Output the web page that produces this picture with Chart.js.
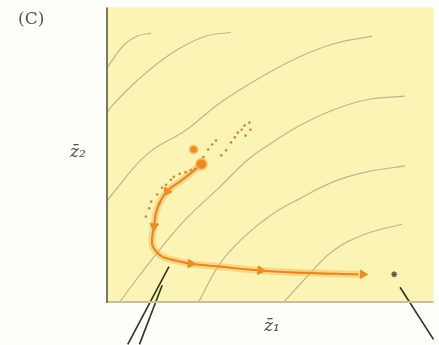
<!DOCTYPE html>
<html>
<head>
<meta charset="utf-8">
<script src="https://cdn.jsdelivr.net/npm/chart.js@4"></script>
<style>
  html, body { margin: 0; padding: 0; background: #fdfdfa; }
  #wrap { width: 439px; height: 345px; }
</style>
</head>
<body>
<div id="wrap"><canvas id="myChart" width="439" height="345"></canvas></div>
<script>
// contour lines of the landscape (x, y in plot units 0..100)
const c1X = [0, 1.5, 5.5, 9.4, 13.6];
const c1Y = [79.3, 81.9, 87.6, 90.3, 91.3];
const c2X = [0, 1.5, 9.4, 19.7, 29.7, 38.2];
const c2Y = [64.2, 66.6, 75.3, 84.3, 90.0, 91.6];
const c3X = [0, 1.5, 12.4, 24.5, 34.8, 49.4, 59.4, 69.7, 81.8];
const c3Y = [34.1, 36.5, 50.2, 58.5, 67.6, 77.6, 83.3, 87.6, 90.3];
const c4X = [3.9, 10, 16.7, 24.5, 34.8, 43.3, 50, 59.4, 69.7, 79.7, 91.8];
const c4Y = [0, 9, 18.4, 28.4, 39.1, 48.2, 53.5, 59.9, 65.2, 68.6, 69.9];
const c5X = [28.2, 34.8, 41.8, 50.9, 59.4, 69.7, 79.7, 91.8];
const c5Y = [0, 13, 21.7, 29.8, 35.1, 40.8, 44.1, 46.2];
const c6X = [54.5, 61.5, 69.7, 79.7, 90.9];
const c6Y = [0, 8.4, 17.4, 23.1, 26.4];

// trajectory of the mean
const pathX = [29.1, 23.6, 18.5, 15.5, 14.5, 13.9, 15.5, 17.6, 21.5, 25.8, 34.8, 47.3, 58.5, 77.5];
const pathY = [46.8, 41.8, 37.5, 31.8, 25.8, 19.7, 16.7, 15.1, 14.0, 13.0, 12.0, 10.7, 10.0, 9.4];

// arrow heads on the trajectory
const arrowX = [18.5, 14.5, 25.8, 47.3, 78.8];
const arrowY = [37.5, 25.8, 13.0, 10.7, 9.4];
const arrowRot = [215, 185, 95, 95, 92];

// scattered small dots
const dotX = [13.0, 13.6, 15.5, 17.0, 18.2, 19.7, 20.6, 22.4, 24.2, 25.8, 27.3, 29.7, 31.2, 32.4, 33.6, 35.2, 36.7, 38.2, 39.4, 40.3, 41.5, 42.4, 43.9, 44.2, 42.7, 12.0, 16.2];
const dotY = [31.8, 34.1, 36.5, 38.8, 39.8, 41.5, 42.5, 43.5, 44.1, 44.8, 45.2, 49.2, 51.8, 53.5, 54.8, 49.8, 51.5, 54.2, 55.9, 57.5, 58.5, 59.9, 60.9, 58.5, 56.5, 29.0, 33.5];

// big dots
const bigX = [26.7, 29.1];
const bigY = [51.8, 46.8];
const bigR = [4, 5.5];

// optimum marker
const optX = [88.5];
const optY = [9.4];

// leader lines running off the figure
const leadAX = [19.1, 6.4];
const leadAY = [12.0, -14.4];
const leadBX = [17.0, 10.0];
const leadBY = [5.7, -14.4];
const leadCX = [90.3, 100.6];
const leadCY = [5.0, -12.7];

const labelPanel = "(C)";
const labelX = "z\u0304\u2081";
const labelY = "z\u0304\u2082";

function pts(xs, ys) {
  return xs.map((x, i) => ({ x: x, y: ys[i] }));
}

const contourColor = "#bcb68f";
function contour(xs, ys) {
  return {
    data: pts(xs, ys), showLine: true, borderColor: contourColor, borderWidth: 1.2,
    pointRadius: 0, tension: 0.4, order: 10
  };
}
function leader(xs, ys) {
  return {
    data: pts(xs, ys), showLine: true, borderColor: "#2f3320", borderWidth: 1.6,
    pointRadius: 0, clip: false, order: 1
  };
}

// yellow plot area, axis lines and labels
const paperPlugin = {
  id: "paper",
  beforeDatasetsDraw(chart) {
    const { ctx, chartArea: a } = chart;
    ctx.save();
    ctx.fillStyle = "#fbf4b4";
    ctx.fillRect(a.left, a.top, a.right - a.left + 2, a.bottom - a.top);
    ctx.restore();
  },
  afterDraw(chart) {
    const { ctx, chartArea: a } = chart;
    ctx.save();
    ctx.strokeStyle = "#c4bf9c";
    ctx.lineWidth = 2;
    ctx.beginPath();
    ctx.moveTo(a.left, a.bottom);
    ctx.lineTo(a.right + 2, a.bottom);
    ctx.stroke();
    ctx.strokeStyle = "#7d7862";
    ctx.lineWidth = 2;
    ctx.beginPath();
    ctx.moveTo(a.left, a.top);
    ctx.lineTo(a.left, a.bottom + 1);
    ctx.stroke();

    ctx.fillStyle = "#555550";
    ctx.textBaseline = "middle";
    ctx.textAlign = "left";
    ctx.font = "17px 'DejaVu Serif', serif";
    ctx.fillText(labelPanel, 18, 20);
    ctx.fillStyle = "#4a4a45";
    ctx.font = "italic 17px 'DejaVu Serif', serif";
    ctx.textAlign = "center";
    ctx.fillText(labelX, 272, 327);
    ctx.fillText(labelY, 78, 153);
    ctx.restore();
  }
};

const ctx = document.getElementById("myChart");
const chart = new Chart(ctx, {
  type: "scatter",
  data: {
    datasets: [
      contour(c1X, c1Y), contour(c2X, c2Y), contour(c3X, c3Y),
      contour(c4X, c4Y), contour(c5X, c5Y), contour(c6X, c6Y),
      {
        // soft glow under the trajectory
        data: pts(pathX, pathY), showLine: true, borderColor: "rgba(248,180,70,0.45)",
        borderWidth: 7, pointRadius: 0, tension: 0.4, order: 6
      },
      {
        data: pts(pathX, pathY), showLine: true, borderColor: "#e4892a",
        borderWidth: 2.2, pointRadius: 0, tension: 0.4, order: 5
      },
      {
        data: pts(arrowX, arrowY), pointStyle: "triangle", pointRadius: 5,
        rotation: arrowRot, backgroundColor: "#ec8f22", borderColor: "#ec8f22", order: 4
      },
      {
        data: pts(dotX, dotY), pointRadius: 1.3, backgroundColor: "#c98a3a",
        borderWidth: 0, order: 4
      },
      {
        data: pts(bigX, bigY), pointRadius: bigR, backgroundColor: "#ee8a25",
        borderColor: "rgba(250,190,90,0.6)", borderWidth: 2, order: 3
      },
      {
        data: pts(optX, optY), pointStyle: "star", pointRadius: 3,
        borderColor: "#5e5c45", borderWidth: 1.3, order: 3
      },
      leader(leadAX, leadAY), leader(leadBX, leadBY), leader(leadCX, leadCY)
    ]
  },
  options: {
    responsive: false,
    animation: false,
    layout: { padding: { left: 107, top: 3, right: 2, bottom: 43 } },
    scales: {
      x: { display: false, min: 0, max: 100 },
      y: { display: false, min: 0, max: 100 }
    },
    plugins: {
      legend: { display: false },
      tooltip: { enabled: false }
    }
  },
  plugins: [paperPlugin]
});
</script>
</body>
</html>
